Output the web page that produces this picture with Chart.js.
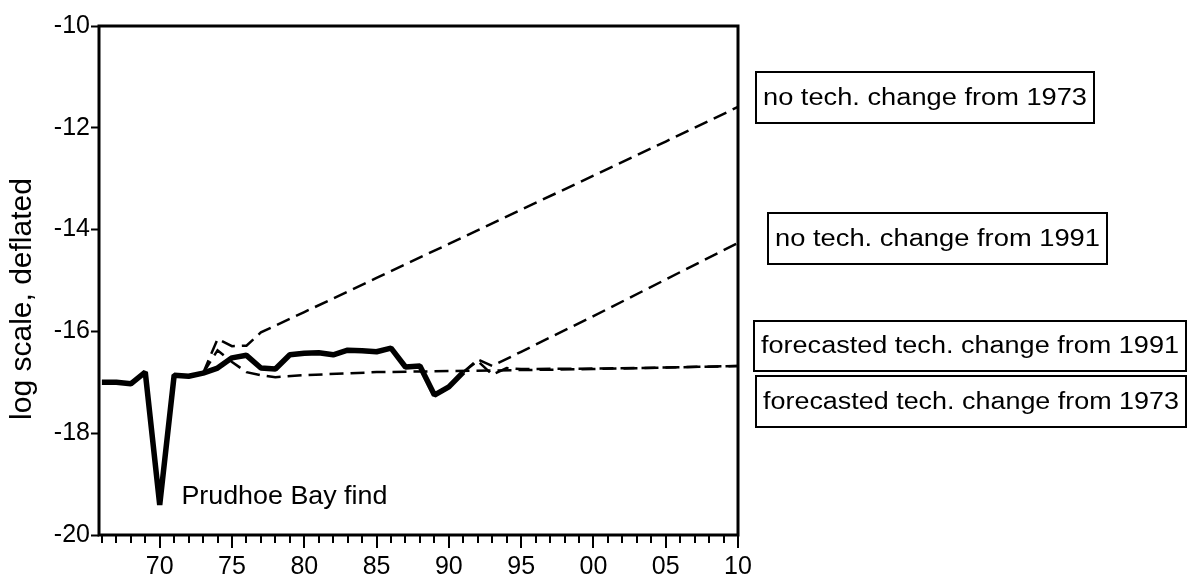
<!DOCTYPE html>
<html>
<head>
<meta charset="utf-8">
<script src="https://cdn.jsdelivr.net/npm/chart.js@4.4.0/dist/chart.umd.min.js"></script>
<style>
    html, body { margin: 0; padding: 0; background: #fff; }
</style>
</head>
<body>
<canvas id="myChart" width="1194" height="583"></canvas>
<script>
    // actual series (thick solid)
    var actualYears = [1966, 1967, 1968, 1969, 1970, 1971, 1972, 1973, 1974, 1975, 1976, 1977, 1978,
                       1979, 1980, 1981, 1982, 1983, 1984, 1985, 1986, 1987, 1988, 1989, 1990, 1991]
    var actualVals = [-17.00, -17.00, -17.03, -16.80, -19.41, -16.86, -16.88, -16.82, -16.72, -16.52, -16.47, -16.72, -16.74,
                      -16.46, -16.43, -16.42, -16.46, -16.37, -16.38, -16.40, -16.33, -16.70, -16.68, -17.25, -17.09, -16.80]

    // no tech. change from 1973
    var noTech73Years = [1973, 1974, 1975, 1976, 1977, 1980, 1985, 1990, 1995, 2000, 2005, 2010]
    var noTech73Vals = [-16.82, -16.15, -16.29, -16.28, -16.02, -15.62, -14.95, -14.28, -13.61, -12.94, -12.27, -11.59]

    // no tech. change from 1991
    var noTech91Years = [1991, 1992, 1993, 1995, 2000, 2005, 2010]
    var noTech91Vals = [-16.80, -16.55, -16.68, -16.40, -15.70, -14.98, -14.26]

    // forecasted tech. change from 1991
    var fc91Years = [1991, 1992, 1993, 1994, 1995, 2000, 2005, 2010]
    var fc91Vals = [-16.80, -16.58, -16.85, -16.72, -16.74, -16.73, -16.71, -16.68]

    // forecasted tech. change from 1973
    var fc73Years = [1973, 1974, 1975, 1976, 1977, 1978, 1980, 1985, 1990, 1995, 2000, 2005, 2010]
    var fc73Vals = [-16.82, -16.37, -16.60, -16.80, -16.86, -16.90, -16.86, -16.80, -16.78, -16.76, -16.74, -16.71, -16.68]

    var yTicks = [-20, -18, -16, -14, -12, -10]

    var FONT = "'Liberation Sans', Arial, Helvetica, sans-serif"

    var boxes = [
        {text: 'no tech. change from 1973', x: 756, y: 72, w: 338, h: 51},
        {text: 'no tech. change from 1991', x: 768, y: 213, w: 339, h: 51},
        {text: 'forecasted tech. change from 1991', x: 754, y: 321, w: 432, h: 50},
        {text: 'forecasted tech. change from 1973', x: 756, y: 376, w: 430, h: 51}
    ]

    function pts(xs, ys) {
        return xs.map(function (v, i) { return {x: v, y: ys[i]} })
    }

    function dashed(label, xs, ys) {
        return {
            label: label,
            data: pts(xs, ys),
            borderColor: '#000',
            borderWidth: 2.5,
            borderDash: [14, 7],
            pointRadius: 0,
            tension: 0,
            fill: false
        }
    }

    // draws text squeezed/stretched to a given width
    function fitText(ctx, text, x, y, width, align) {
        var tw = ctx.measureText(text).width
        ctx.save()
        ctx.translate(x, y)
        ctx.scale(width / tw, 1)
        ctx.textAlign = align
        ctx.fillText(text, 0, 0)
        ctx.restore()
    }

    var framePlugin = {
        id: 'frame',
        afterDraw: function (chart) {
            var ctx = chart.ctx
            var a = chart.chartArea
            var xs = chart.scales.x
            var ys = chart.scales.y
            ctx.save()
            ctx.strokeStyle = '#000'
            // year ticks below the axis
            ctx.lineWidth = 2
            xs.ticks.forEach(function (t) {
                var px = Math.round(xs.getPixelForValue(t.value))
                var len = t.value % 5 === 0 ? 13 : 8
                ctx.beginPath()
                ctx.moveTo(px, a.bottom)
                ctx.lineTo(px, a.bottom + len)
                ctx.stroke()
            })
            ctx.lineWidth = 3
            ctx.strokeRect(a.left, a.top, a.right - a.left, a.bottom - a.top)

            ctx.fillStyle = '#000'

            // y axis title
            ctx.save()
            ctx.font = '30px ' + FONT
            ctx.textBaseline = 'middle'
            ctx.translate(23, 299)
            ctx.rotate(-Math.PI / 2)
            ctx.textAlign = 'center'
            ctx.fillText('log scale, deflated', 0, 0)
            ctx.restore()

            // note on the dip
            ctx.font = '25px ' + FONT
            ctx.textBaseline = 'alphabetic'
            fitText(ctx, 'Prudhoe Bay find', xs.getPixelForValue(1971.5), ys.getPixelForValue(-19.39), 206, 'left')

            // boxed labels on the right
            ctx.lineWidth = 2
            ctx.font = '23px ' + FONT
            ctx.textBaseline = 'middle'
            boxes.forEach(function (b) {
                ctx.strokeRect(b.x, b.y, b.w, b.h)
                fitText(ctx, b.text, b.x + b.w / 2, b.y + b.h / 2 + 1, b.w - 14, 'center')
            })
            ctx.restore()
        }
    }

    var myChart = new Chart(document.getElementById('myChart'), {
        type: 'line',
        data: {
            datasets: [
                {
                    label: 'actual',
                    data: pts(actualYears, actualVals),
                    borderColor: '#000',
                    borderWidth: 5.5,
                    borderJoinStyle: 'bevel',
                    pointRadius: 0,
                    tension: 0,
                    fill: false
                },
                dashed('no tech. change from 1973', noTech73Years, noTech73Vals),
                dashed('no tech. change from 1991', noTech91Years, noTech91Vals),
                dashed('forecasted tech. change from 1991', fc91Years, fc91Vals),
                dashed('forecasted tech. change from 1973', fc73Years, fc73Vals)
            ]
        },
        options: {
            responsive: false,
            animation: false,
            devicePixelRatio: 1,
            layout: {padding: {top: 26, right: 456, bottom: 0, left: 0}},
            plugins: {legend: {display: false}, tooltip: {enabled: false}},
            scales: {
                x: {
                    type: 'linear',
                    min: 1965.8,
                    max: 2010,
                    afterBuildTicks: function (scale) {
                        var t = []
                        for (var yr = 1966; yr <= 2010; yr++) t.push({value: yr})
                        scale.ticks = t
                    },
                    afterFit: function (scale) { scale.height = 48 },
                    border: {display: false},
                    grid: {drawOnChartArea: false, drawTicks: true, tickLength: 13, tickColor: 'rgba(0,0,0,0)'},
                    ticks: {
                        autoSkip: false,
                        maxRotation: 0,
                        padding: 4,
                        color: '#000',
                        font: {family: FONT, size: 25},
                        callback: function (v) {
                            if (v % 5 !== 0) return ''
                            return String(v % 100).padStart(2, '0')
                        }
                    }
                },
                y: {
                    min: -20,
                    max: -10,
                    afterBuildTicks: function (scale) {
                        scale.ticks = yTicks.map(function (v) { return {value: v} })
                    },
                    afterFit: function (scale) { scale.width = 99 },
                    border: {display: false},
                    grid: {drawOnChartArea: false, drawTicks: true, tickLength: 8, tickColor: '#000', tickWidth: 2},
                    ticks: {
                        padding: 1,
                        color: '#000',
                        font: {family: FONT, size: 25},
                        callback: function (v) { return String(v) }
                    }
                }
            }
        },
        plugins: [framePlugin]
    })
</script>
</body>
</html>
